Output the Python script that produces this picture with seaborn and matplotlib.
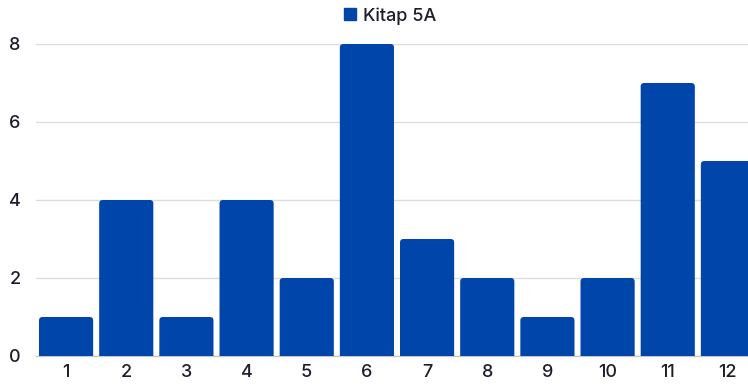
import matplotlib
matplotlib.use("Agg")
import matplotlib.pyplot as plt
from matplotlib.patches import FancyBboxPatch
from matplotlib.lines import Line2D
import seaborn as sns
import pandas as pd

categories = ["1", "2", "3", "4", "5", "6", "7", "8", "9", "10", "11", "12"]
values = [1, 4, 1, 4, 2, 8, 3, 2, 1, 2, 7, 5]
series_name = "Kitap 5A"
y_ticks = [0, 2, 4, 6, 8]

BAR_COLOR = "#0046AA"
TEXT_COLOR = "#1c1f2a"
GRID_COLOR = "#dcdcdc"

sns.set_theme(style="white")
plt.rcParams["font.family"] = ["Inter", "DejaVu Sans"]
plt.rcParams["font.weight"] = "medium"

df = pd.DataFrame({"cat": categories, "val": values})

fig = plt.figure(figsize=(7.48, 3.90), dpi=100)
ax = fig.add_axes([36 / 748, 34 / 390, 722 / 748, 312 / 390])

sns.barplot(data=df, x="cat", y="val", color=BAR_COLOR, saturation=1,
            width=0.9, ax=ax, zorder=3)

# Swap the plain rectangles for ones with softly rounded corners
px_x = 722 / 12      # pixels per category
px_y = 312 / 8       # pixels per unit value
r = 3.5 / px_x
aspect = (3.5 / px_y) / r
for p in list(ax.patches):
    x0, w, h = p.get_x(), p.get_width(), p.get_height()
    rb = FancyBboxPatch((x0, -0.3), w, h + 0.3,
                        boxstyle=f"round,pad=0,rounding_size={r}",
                        mutation_aspect=aspect,
                        facecolor=BAR_COLOR, edgecolor="none", zorder=3)
    p.remove()
    ax.add_patch(rb)

ax.set_ylim(0, 8)
ax.set_xlim(-0.5, 11.5)
ax.set_yticks(y_ticks)
ax.yaxis.grid(True, color=GRID_COLOR, linewidth=1, zorder=0)
ax.set_xlabel("")
ax.set_ylabel("")
for s in ["top", "right", "left"]:
    ax.spines[s].set_visible(False)
ax.spines["bottom"].set_color("#c8c8c8")
ax.spines["bottom"].set_linewidth(1)
ax.spines["bottom"].set_zorder(2)
ax.tick_params(axis="both", length=0, labelsize=13, labelcolor=TEXT_COLOR)
ax.tick_params(axis="y", pad=11)
ax.tick_params(axis="x", pad=6)

handle = Line2D([], [], marker="s", linestyle="none", markersize=8.5,
                markerfacecolor=BAR_COLOR, markeredgecolor=BAR_COLOR)
fig.legend([handle], [series_name], loc="center", bbox_to_anchor=(388 / 748, 1 - 16 / 390),
           frameon=False, fontsize=13, handletextpad=0.1, handlelength=1.2,
           labelcolor=TEXT_COLOR)

fig.savefig("out.png", dpi=100)
